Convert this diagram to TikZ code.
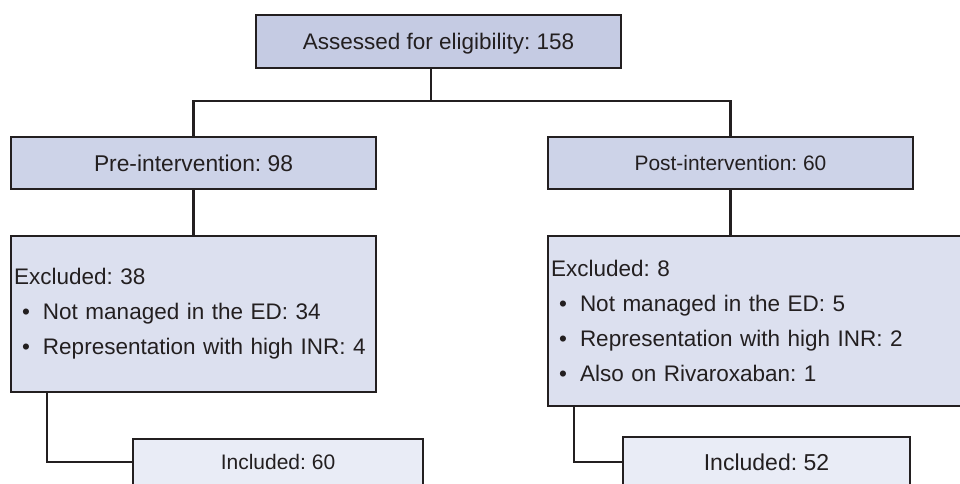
\documentclass[tikz,border=0pt]{standalone}
\usepackage{fontspec}
\setmainfont{Liberation Sans}
\usepackage{tikz}

\definecolor{edge}{HTML}{231F20}
\definecolor{fill1}{HTML}{C5CBE3}
\definecolor{fill2}{HTML}{CDD3E8}
\definecolor{fill3}{HTML}{DCE0EF}
\definecolor{fill4}{HTML}{E9ECF6}
\newcommand{\bul}{\hspace*{8pt}\makebox[21pt][l]{\textbullet}}
\frenchspacing

\begin{document}
\begin{tikzpicture}[x=1pt,y=1pt]
\tikzstyle{box1}=[rectangle, draw=edge, line width=1.8pt, fill=fill1, inner sep=0pt, text=edge, text depth=0pt, font=\fontsize{22.5}{27}\selectfont]
\tikzstyle{box2}=[rectangle, draw=edge, line width=1.8pt, fill=fill2, inner sep=0pt, text=edge, minimum width=365pt, minimum height=52pt]
\tikzstyle{box3}=[rectangle, draw=edge, line width=1.8pt, fill=fill3, inner xsep=3pt, inner ysep=0pt, text=edge, align=left, font=\fontsize{22.5}{35}\selectfont]
\tikzstyle{box4}=[rectangle, draw=edge, line width=1.8pt, fill=fill4, inner sep=0pt, text=edge]
\tikzstyle{link}=[draw=edge, line width=2.2pt]

\useasboundingbox (0,0) rectangle (960,-483);

\node (assess) at (438.5,-41.5) [box1, minimum width=365pt, minimum height=53pt] {Assessed for eligibility: 158};
\node (pre) at (193.5,-163) [box2, font=\fontsize{22.8}{27}\selectfont] {Pre-intervention: 98};
\node (post) at (730.5,-163) [box2, font=\fontsize{20.9}{25}\selectfont] {Post-intervention: 60};

\node (exc1) at (193.5,-314) [box3, text width=359pt, minimum height=156pt] {Excluded: 38\\
\bul Not managed in the ED: 34\\
\bul Representation with high INR: 4};
\node (exc2) at (755,-321) [box3, text width=408pt, minimum height=170pt] {Excluded: 8\\
\bul Not managed in the ED: 5\\
\bul Representation with high INR: 2\\
\bul Also on Rivaroxaban: 1};

\node (inc1) at (278,-462) [box4, minimum width=290pt, minimum height=46pt, font=\fontsize{21}{25}\selectfont] {Included: 60};
\node (inc2) at (766.5,-462) [box4, minimum width=287pt, minimum height=50pt, font=\fontsize{23}{27}\selectfont] {Included: 52};

\draw[link] ([xshift=-7.5pt]assess.south) -- ++(0,-32) coordinate (split);
\draw[link] (pre.north) |- (split) -| (post.north);
\draw[link] (pre.south) -- (exc1.north -| pre.south);
\draw[link] (post.south) -- (exc2.north -| post.south);
\draw[link] ([xshift=37pt]exc1.south west) |- (inc1.west);
\draw[link] ([xshift=27pt]exc2.south west) |- (inc2.west);
\end{tikzpicture}
\end{document}
